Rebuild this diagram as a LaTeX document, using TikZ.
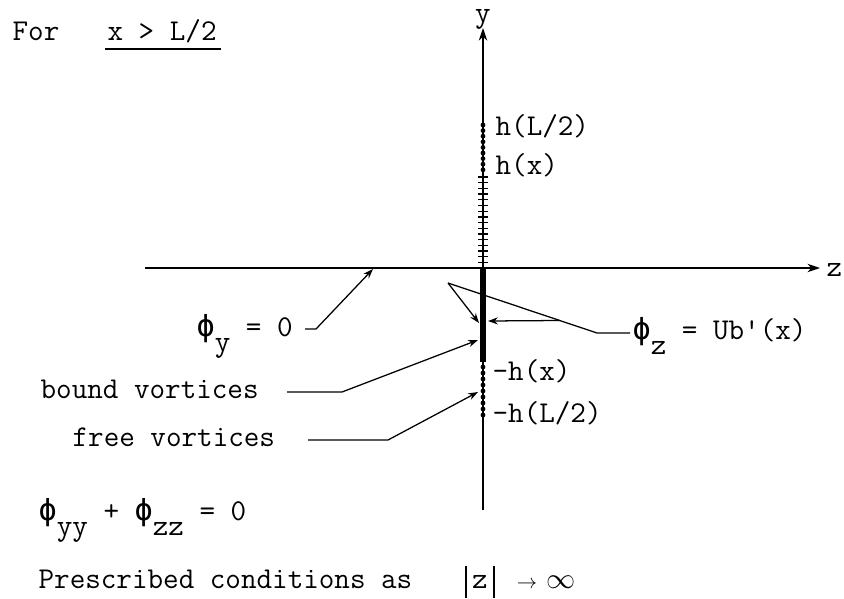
\documentclass[tikz,border=0pt]{standalone}
\usepackage{amsmath}
\usepackage{fontspec}
\usepackage{tikz}
\usetikzlibrary{calc, arrows.meta, positioning}

\newfontfamily\phifont{DejaVu Sans Mono}
\newcommand{\vphi}{{\phifont\char"03D5}}
\newcommand{\lowsub}[1]{\raisebox{-0.5em}{#1}}
\newcommand{\absbar}{\vrule height 16pt depth 7pt width 0.8pt}

\begin{document}
\begin{tikzpicture}[x=0.025cm, y=-0.025cm, line width=0.9pt,
  >={Stealth[length=7pt, width=5pt]},
  every node/.style={font=\fontsize{21.5}{24}\selectfont\ttfamily, inner sep=0pt},
  axis/.style={-{Stealth[length=9pt, width=6pt]}}]
\useasboundingbox (0,0) rectangle (844,599);

% heading
\node (for) [anchor=base west] at (12,40) {For};
\node (cond) [anchor=base west] at (107,40) {x > L/2};
\draw ($(cond.base west)+(-2,9)$) -- ($(cond.base east)+(4,9)$);

% axes
\coordinate (ytop) at (483,28);
\coordinate (ybot) at (483,510);
\coordinate (zleft) at (145,268);
\coordinate (zright) at (820,268);
\draw[axis] (ybot) -- (ytop);
\draw[axis] (zleft) -- (zright);
\node (ylab) [anchor=base] at (483,22) {y};
\node (zlab) [anchor=base west] at (826,276) {z};

% free vortices above, ticks down to the axis
\foreach \v in {125,130.6,...,171} \fill (483,\v) circle (1.7pt);
\foreach \v in {177,182.7,...,264} \draw (478,\v) -- (488,\v);
% bound vortex sheet and free vortices below
\fill (480,268) rectangle (486,362);
\foreach \v in {367,373,...,416} \fill (483,\v) circle (1.7pt);

\node (hL) [anchor=base west] at (495,135) {h(L/2)};
\node (hx) [anchor=base west] at (495,174) {h(x)};
\node (mhx) [anchor=base west] at (492,380) {-h(x)};
\node (mhL) [anchor=base west] at (492,422) {-h(L/2)};

% labels
\node (phiy) [anchor=base west] at (196,336) {\vphi\lowsub{y} = 0};
\node (phiz) [anchor=base west] at (632,339) {\vphi\lowsub{z} = Ub\textquotesingle(x)};
\node (bound) [anchor=base west] at (40,398) {bound vortices};
\node (free) [anchor=base west] at (72,446) {free vortices};
\node (laplace) [anchor=base west] at (38,520) {\vphi\lowsub{yy} + \vphi\lowsub{zz} = 0};
\node (presc) [anchor=base west] at (38,588) {Prescribed conditions as};
\node (absz) [anchor=base] at (480,588) {\absbar\hspace{4pt}z\hspace{4pt}\absbar};
\node (arr) [anchor=base] at (527,588) {$\scriptstyle\rightarrow$};
\node (inf) [anchor=base] at (561,588) {$\infty$};

% leaders
\coordinate (yfoot) at (305,329);
\coordinate (yknee) at (316,329);
\coordinate (zhit) at (373,269);
\draw[->] (yfoot) -- (yknee) -- (zhit);

\coordinate (zfoot) at (630,333);
\coordinate (zknee) at (597,333);
\coordinate (apex) at (448,283);
\coordinate (barL) at (479,323);
\coordinate (barR) at (488,321);
\draw (zfoot) -- (zknee) -- (apex);
\draw[->] (apex) -- (barL);
\draw[->] ($(zknee)!0.25!(apex)$) -- (barR);

\coordinate (bfoot) at (287,392);
\coordinate (bknee) at (342,392);
\coordinate (btip) at (478,340);
\draw[->] (bfoot) -- (bknee) -- (btip);

\coordinate (ffoot) at (308,440);
\coordinate (fknee) at (388,440);
\coordinate (ftip) at (478,392);
\draw[->] (ffoot) -- (fknee) -- (ftip);
\end{tikzpicture}
\end{document}
